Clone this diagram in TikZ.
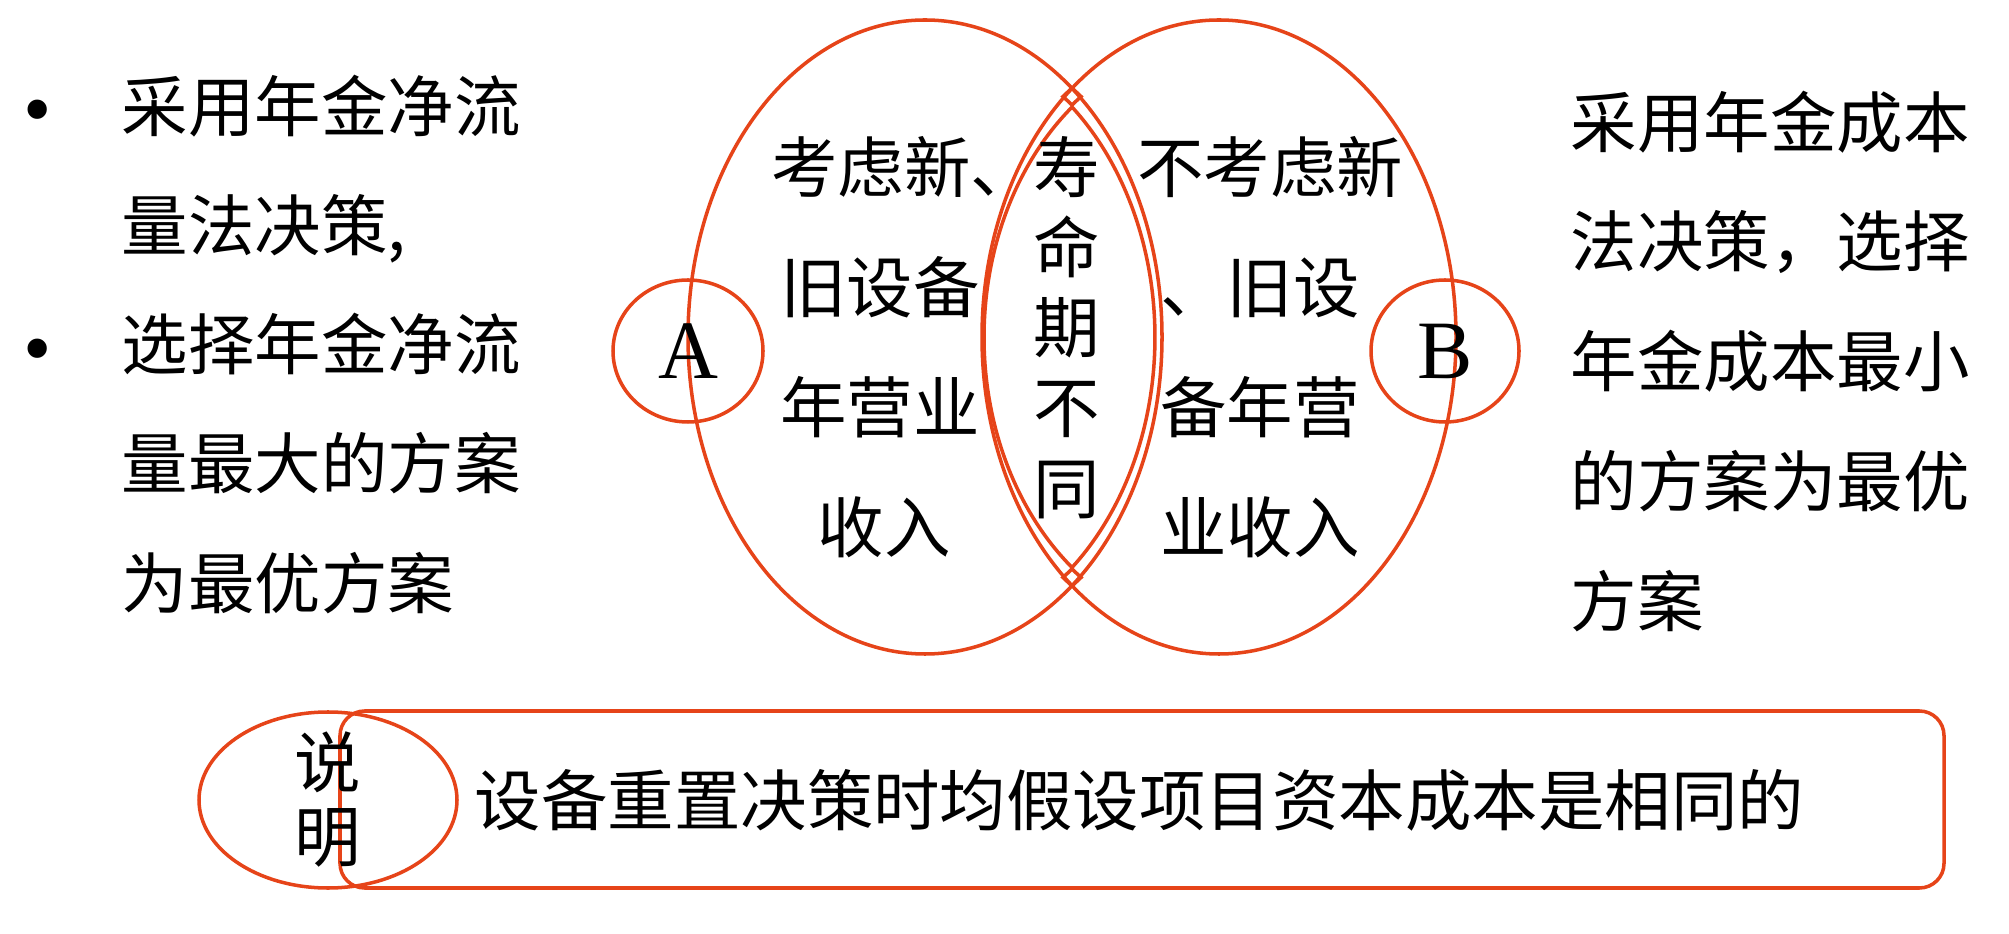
\documentclass[tikz,border=0pt]{standalone}
\usepackage{fontspec}
\setmainfont{Liberation Serif}
\newfontfamily\cjk{Noto Sans CJK SC}
\usepackage{xcolor}
\usetikzlibrary{arrows,shapes,calc,positioning}
\definecolor{venn}{RGB}{230,68,25}

\begin{document}
\begin{tikzpicture}[x=0.01cm, y=0.01cm]
		\tikzstyle{every node}=[inner sep=0pt]
		\tikzstyle{txt}=[font=\cjk\fontsize{18.9}{22}\selectfont, text height=15.6pt, text depth=1.3pt]
		\tikzstyle{ring}=[draw=venn, line width=1pt]
		\useasboundingbox (0,0) rectangle (2009,933);
		% the two sets and their overlap
		\draw [ring] (925,596) ellipse [x radius=237, y radius=317];
		\draw [ring] (1219,596) ellipse [x radius=237, y radius=317];
		\draw [ring] (1072,826) arc [start angle=49.46, end angle=-49.46, x radius=237, y radius=303]
			arc [start angle=231.05, end angle=128.95, x radius=237, y radius=296] -- cycle;
		\draw [ring] (1072,845) -- (1081,836.5) -- (1072,828) -- (1063,836.5) -- cycle;
		\draw [ring] (1072,347) -- (1081,355.5) -- (1072,364) -- (1063,355.5) -- cycle;
		\draw [ring] (688,582) ellipse [x radius=75, y radius=71];
		\draw [ring] (1445,582) ellipse [x radius=74, y radius=71];
		\node [font=\fontsize{23.6}{26}\selectfont] (A) at (688,582) {A};
		\node [font=\fontsize{23.6}{26}\selectfont] (B) at (1445,582) {B};
		% left column
		\node [font=\fontsize{23}{25}\selectfont] (dot1) at (38,815) {\textbullet};
		\node [font=\fontsize{23}{25}\selectfont] (dot2) at (38,576) {\textbullet};
		\foreach \t [count=\i] in {采用年金净流,{量法决策,},选择年金净流,量最大的方案,为最优方案}
			\node [txt, anchor=west] (lft\i) at (121,{827-119.25*(\i-1)}) {\t};
		% right column
		\foreach \t [count=\i] in {采用年金成本,{法决策，选择},年金成本最小,的方案为最优,方案}
			\node [txt, anchor=west] (rgt\i) at (1570,{811-119.75*(\i-1)}) {\t};
		% inside the sets
		\foreach \x/\t [count=\i] in {904/考虑新、,880/旧设备,880/年营业,884/收入}
			\node [txt] (ina\i) at (\x,{766-120*(\i-1)}) {\t};
		\foreach \t [count=\i] in {寿,命,期,不,同}
			\node [txt] (mid\i) at (1067,{766-80.25*(\i-1)}) {\t};
		\foreach \x/\t [count=\i] in {1270/不考虑新,1260/、旧设,1260/备年营,1260/业收入}
			\node [txt] (inb\i) at (\x,{766-120*(\i-1)}) {\t};
		% note at the bottom
		\draw [ring, rounded corners=7pt] (340,45) rectangle (1944,222);
		\draw [ring] (328,133) ellipse [x radius=129, y radius=88];
		\node [txt] (say1) at (328,171) {说};
		\node [txt] (say2) at (328,97) {明};
		\node [txt, anchor=west] (note) at (474,133) {设备重置决策时均假设项目资本成本是相同的};
		\end{tikzpicture}
\end{document}
